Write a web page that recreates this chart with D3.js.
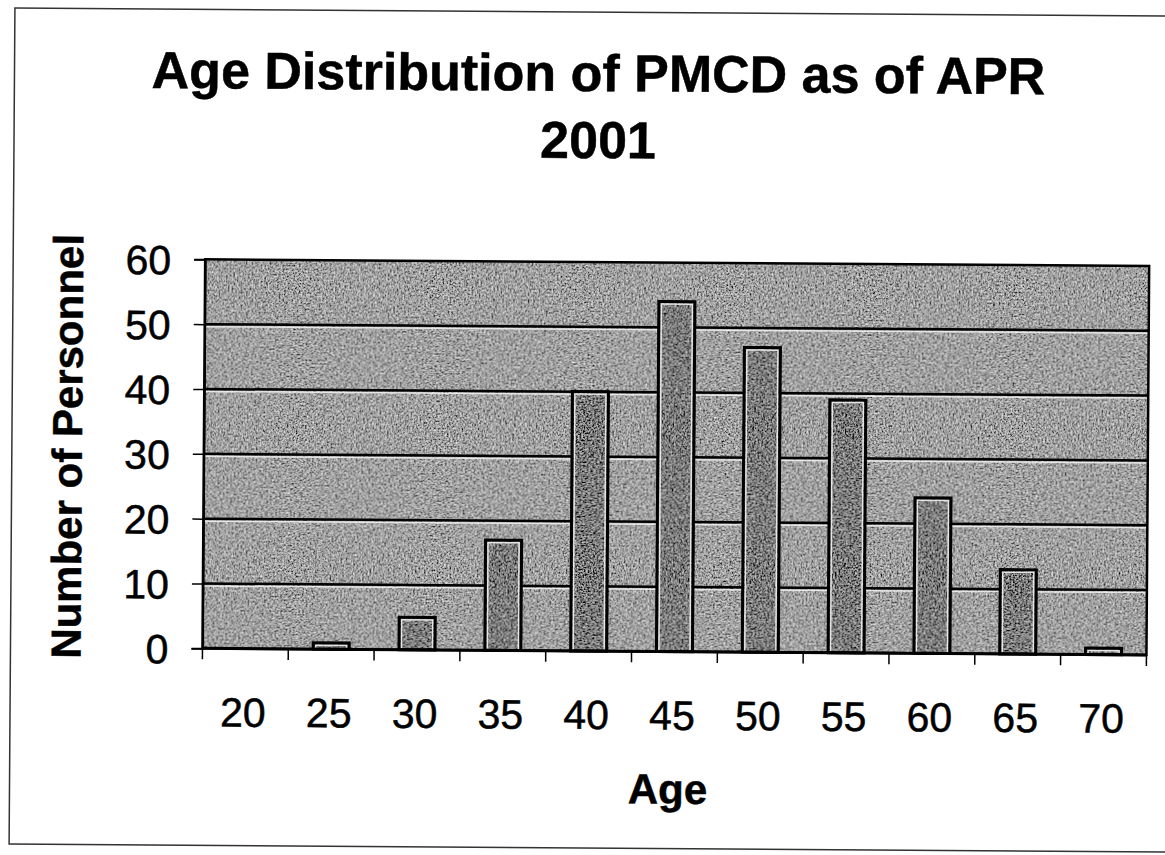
<!DOCTYPE html>
<html>
<head>
<meta charset="utf-8">
<script src="https://cdn.jsdelivr.net/npm/d3@7"></script>
<style>
  body { margin: 0; background: #fff; }
  svg text { font-family: "Liberation Sans", Arial, sans-serif; fill: #000; stroke: #000; stroke-width: 0.5; }
</style>
</head>
<body>
<div id="chart"></div>
<script>
// datos
const ages = ["20", "25", "30", "35", "40", "45", "50", "55", "60", "65", "70"];
const counts = [0, 1, 5, 17, 40, 54, 47, 39, 24, 13, 1];
const yTicks = [0, 10, 20, 30, 40, 50, 60];
const titleLines = ["Age Distribution of PMCD as of APR", "2001"];

const width = 1165;
const height = 855;
const plot = { left: 204, right: 1148, top: 262, bottom: 651 };

const svg = d3.select("#chart").append("svg")
  .attr("width", width)
  .attr("height", height);

// textura de grano (escaneado)
const defs = svg.append("defs");
const grain = defs.append("filter")
  .attr("id", "grain")
  .attr("x", 0).attr("y", 0).attr("width", 1).attr("height", 1);
grain.append("feTurbulence")
  .attr("type", "fractalNoise")
  .attr("baseFrequency", 0.55)
  .attr("numOctaves", 4)
  .attr("seed", 4)
  .attr("result", "t");
grain.append("feColorMatrix")
  .attr("in", "t")
  .attr("type", "matrix")
  .attr("values", "1 0 0 0 0  1 0 0 0 0  1 0 0 0 0  0 0 0 0 1")
  .attr("result", "g");
grain.append("feComposite")
  .attr("in", "SourceGraphic")
  .attr("in2", "g")
  .attr("operator", "arithmetic")
  .attr("k1", 0).attr("k2", 1).attr("k3", 1.3).attr("k4", -0.65);

// todo el gráfico ligeramente inclinado, como el escaneo
const g = svg.append("g")
  .attr("transform", "rotate(0.4, 583, 430)");

// marco exterior
g.append("rect")
  .attr("x", 12).attr("y", 12)
  .attr("width", 1200).attr("height", 836)
  .attr("fill", "none")
  .attr("stroke", "#333")
  .attr("stroke-width", 1.5);

// escalas
const x = d3.scaleBand()
  .domain(ages)
  .range([plot.left, plot.right]);

const y = d3.scaleLinear()
  .domain([0, 60])
  .range([plot.bottom, plot.top]);

// fondo del área de trazado
g.append("rect")
  .attr("x", plot.left).attr("y", plot.top)
  .attr("width", plot.right - plot.left)
  .attr("height", plot.bottom - plot.top)
  .attr("fill", "#a0a0a0")
  .attr("filter", "url(#grain)");

// líneas de cuadrícula
const grid = yTicks.filter(d => d > 0 && d < 60);
g.selectAll(".grid-hi")
  .data(grid)
  .enter().append("line")
  .attr("x1", plot.left).attr("x2", plot.right)
  .attr("y1", d => y(d) + 2.5).attr("y2", d => y(d) + 2.5)
  .attr("stroke", "#e8e8e8")
  .attr("stroke-width", 1.5);
g.selectAll(".grid")
  .data(grid)
  .enter().append("line")
  .attr("x1", plot.left).attr("x2", plot.right)
  .attr("y1", d => y(d)).attr("y2", d => y(d))
  .attr("stroke", "#000")
  .attr("stroke-width", 2.5);

// barras
const barW = x.bandwidth() * 0.42;
const bars = g.selectAll(".bar")
  .data(counts.map((c, i) => ({ age: ages[i], count: c })).filter(d => d.count > 0))
  .enter().append("g");

bars.append("rect")
  .attr("x", d => x(d.age) + (x.bandwidth() - barW) / 2)
  .attr("y", d => y(d.count))
  .attr("width", barW)
  .attr("height", d => y(0) - y(d.count))
  .attr("fill", "#7a7a7a")
  .attr("filter", "url(#grain)");

bars.append("rect")
  .attr("x", d => x(d.age) + (x.bandwidth() - barW) / 2 + 2.5)
  .attr("y", d => y(d.count) + 2.5)
  .attr("width", barW - 5)
  .attr("height", d => Math.max(0, y(0) - y(d.count) - 2.5))
  .attr("fill", "none")
  .attr("stroke", "#e6e6e6")
  .attr("stroke-width", 1.5);

bars.append("rect")
  .attr("x", d => x(d.age) + (x.bandwidth() - barW) / 2)
  .attr("y", d => y(d.count))
  .attr("width", barW)
  .attr("height", d => y(0) - y(d.count))
  .attr("fill", "none")
  .attr("stroke", "#000")
  .attr("stroke-width", 3);

// borde del área de trazado
g.append("rect")
  .attr("x", plot.left).attr("y", plot.top)
  .attr("width", plot.right - plot.left)
  .attr("height", plot.bottom - plot.top)
  .attr("fill", "none")
  .attr("stroke", "#000")
  .attr("stroke-width", 2.5);

// eje Y
const yAxis = g.append("g")
  .attr("transform", `translate(${plot.left},0)`)
  .call(d3.axisLeft(y).tickValues(yTicks).tickSize(11).tickPadding(23));
yAxis.select(".domain").attr("stroke", "#000").attr("stroke-width", 2);
yAxis.selectAll(".tick line").attr("stroke", "#000").attr("stroke-width", 1.5);
yAxis.selectAll(".tick text")
  .attr("font-size", 41)
  .attr("fill", "#000")
  .attr("dy", "0.36em");

// eje X: marcas en los límites de categoría, etiquetas centradas
const xAxis = g.append("g")
  .attr("transform", `translate(0,${plot.bottom})`);
xAxis.append("line")
  .attr("x1", plot.left).attr("x2", plot.right)
  .attr("stroke", "#000").attr("stroke-width", 3);
xAxis.selectAll(".xtick")
  .data(ages.map(a => x(a)).concat([plot.right]))
  .enter().append("line")
  .attr("x1", d => d).attr("x2", d => d)
  .attr("y1", 0).attr("y2", 11)
  .attr("stroke", "#000").attr("stroke-width", 1.5);
xAxis.selectAll(".xlabel")
  .data(ages)
  .enter().append("text")
  .attr("x", d => x(d) + x.bandwidth() / 2 - 2)
  .attr("y", 78)
  .attr("text-anchor", "middle")
  .attr("font-size", 41)
  .text(d => d);

// títulos de ejes
g.append("text")
  .attr("x", 670).attr("y", 803)
  .attr("text-anchor", "middle")
  .attr("font-size", 42)
  .attr("font-weight", "bold")
  .text("Age");

g.append("text")
  .attr("transform", "translate(82,450) rotate(-90)")
  .attr("text-anchor", "middle")
  .attr("font-size", 42)
  .attr("font-weight", "bold")
  .text("Number of Personnel");

// título
g.selectAll(".title")
  .data(titleLines)
  .enter().append("text")
  .attr("x", 596)
  .attr("y", (d, i) => 91 + i * 67)
  .attr("text-anchor", "middle")
  .attr("font-size", 52)
  .attr("font-weight", "bold")
  .text(d => d);
</script>
</body>
</html>
